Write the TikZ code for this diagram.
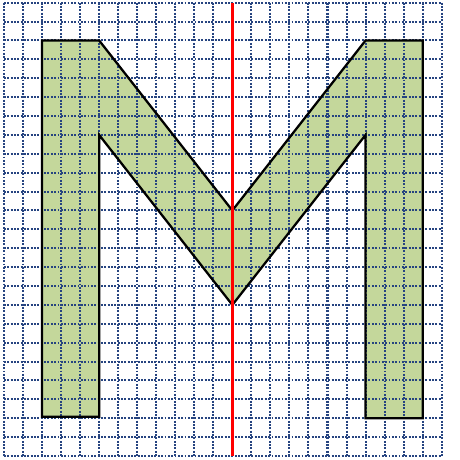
\documentclass[tikz,border=0pt]{standalone}
\usepackage{tikz}
\definecolor{gridblue}{RGB}{38,68,128}
\definecolor{mgreen}{RGB}{196,215,155}

\begin{document}
\begin{tikzpicture}[x=0.5cm,y=-0.4963cm,
  gridln/.style={gridblue,line width=1.5pt,dash pattern=on 1.4pt off 1.1pt},
  letter/.style={draw=black,line width=1.7pt,line join=miter},
  axis/.style={red,line width=2.2pt}]
  \useasboundingbox (-0.21,-0.143) rectangle (23.96,24.21);
  % corners of the letter
  \coordinate (tl)  at (2,2);   \coordinate (ti)  at (5,2);
  \coordinate (vt)  at (12,11); \coordinate (tri) at (19,2);
  \coordinate (tr)  at (22,2);  \coordinate (br)  at (22,22);
  \coordinate (bri) at (19,22); \coordinate (nr)  at (19,7);
  \coordinate (vb)  at (12,16); \coordinate (nl)  at (5,7);
  \coordinate (bli) at (5,21.92); \coordinate (bl) at (2,21.92);
  \fill[mgreen] (tl) -- (ti) -- (vt) -- (tri) -- (tr) -- (br) -- (bri) -- (nr)
    -- (vb) -- (nl) -- (bli) -- (bl) -- cycle;
  % squared paper
  \foreach \i in {0,...,23} \draw[gridln] (\i,0) -- (\i,24);
  \foreach \j in {0,...,24} \draw[gridln] (0,\j) -- (23,\j);
  \draw[letter] (tl) -- (ti) -- (vt) -- (tri) -- (tr) -- (br) -- (bri) -- (nr)
    -- (vb) -- (nl) -- (bli) -- (bl) -- cycle;
  % mirror line
  \coordinate (ax1) at (12,0); \coordinate (ax2) at (12,24);
  \draw[axis] (ax1) -- (ax2);
\end{tikzpicture}
\end{document}
